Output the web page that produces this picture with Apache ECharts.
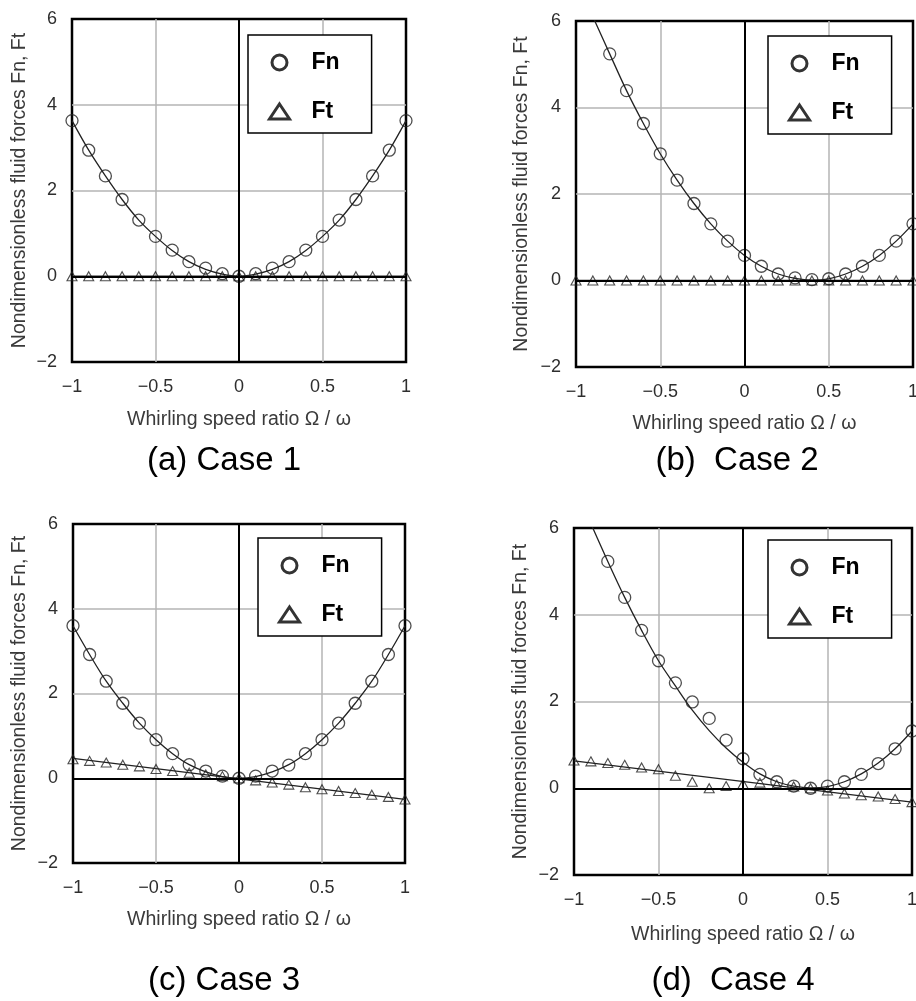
<!DOCTYPE html>
<html><head><meta charset="utf-8">
<script src="https://cdn.jsdelivr.net/npm/echarts@6/dist/echarts.min.js"></script>
<style>html,body{margin:0;padding:0;background:#fff}#c{width:916px;height:1001px}</style>
</head><body><div id="c"></div>
<script>
// ---- data ----
const xs = [-1,-0.9,-0.8,-0.7,-0.6,-0.5,-0.4,-0.3,-0.2,-0.1,0,0.1,0.2,0.3,0.4,0.5,0.6,0.7,0.8,0.9,1];
const xTicks = [-1,-0.5,0,0.5,1];
const yTicks = [-2,0,2,4,6];
const panelTitles = ['(a) Case 1','(b)  Case 2','(c) Case 3','(d)  Case 4'];
const seriesNames = ['Fn','Ft'];
const xAxisName = 'Whirling speed ratio Ω / ω';
const yAxisName = 'Nondimensionless fluid forces Fn, Ft';

// Case 1
const fnA = [3.63,2.94,2.34,1.79,1.31,0.93,0.61,0.34,0.19,0.06,0.0,0.06,0.19,0.34,0.61,0.93,1.31,1.79,2.34,2.94,3.63];
const fnFitA = [3.63,2.94,2.34,1.79,1.31,0.93,0.60,0.34,0.16,0.05,0.0,0.05,0.16,0.34,0.60,0.93,1.31,1.79,2.34,2.94,3.63];
const ftA = [0,0,0,0,0,0,0,0,0,0,0,0,0,0,0,0,0,0,0,0,0];
const ftFitXA = [-1,1];
const ftFitA = [0,0];
// Case 2
const fnB = [null,null,5.24,4.39,3.63,2.93,2.32,1.78,1.31,0.91,0.58,0.33,0.15,0.06,0.02,0.04,0.15,0.33,0.58,0.91,1.31];
const fnFitB = [null,6.1,5.24,4.39,3.63,2.93,2.32,1.78,1.31,0.91,0.58,0.33,0.15,0.05,0.01,0.04,0.15,0.33,0.58,0.91,1.31];
const ftB = [0,0,0,0,0,0,0,0,0,0,0,0,0,0,0,0,0,0,0,0,0];
const ftFitXB = [-1,1];
const ftFitB = [0,0];
// Case 3
const fnC = [3.60,2.92,2.29,1.77,1.30,0.91,0.58,0.32,0.17,0.05,0.0,0.05,0.17,0.31,0.58,0.91,1.30,1.77,2.29,2.92,3.60];
const fnFitC = [3.60,2.92,2.29,1.77,1.30,0.91,0.58,0.32,0.15,0.04,0.0,0.04,0.15,0.32,0.58,0.91,1.30,1.77,2.29,2.92,3.60];
const ftC = [0.45,0.41,0.37,0.32,0.28,0.22,0.17,0.13,0.09,0.05,0.0,-0.05,-0.1,-0.15,-0.21,-0.26,-0.3,-0.35,-0.39,-0.44,-0.5];
const ftFitXC = [-1,1];
const ftFitC = [0.47,-0.5];
// Case 4
const fnD = [null,null,5.23,4.40,3.64,2.94,2.43,1.99,1.61,1.11,0.68,0.32,0.15,0.05,0.0,0.05,0.15,0.32,0.57,0.91,1.32];
const fnFitD = [null,6.1,5.23,4.40,3.64,2.94,2.36,1.80,1.33,0.93,0.60,0.33,0.15,0.05,0.01,0.04,0.15,0.33,0.58,0.91,1.32];
const ftD = [0.64,0.62,0.58,0.54,0.48,0.44,0.29,0.15,0.0,0.05,0.1,0.13,0.08,0.04,0.0,-0.05,-0.12,-0.16,-0.19,-0.25,-0.32];
const ftFitXD = [-1,1];
const ftFitD = [0.63,-0.32];

const dataSets = [
  {fn: fnA, fnFit: fnFitA, ft: ftA, ftFitX: ftFitXA, ftFit: ftFitA},
  {fn: fnB, fnFit: fnFitB, ft: ftB, ftFitX: ftFitXB, ftFit: ftFitB},
  {fn: fnC, fnFit: fnFitC, ft: ftC, ftFitX: ftFitXC, ftFit: ftFitC},
  {fn: fnD, fnFit: fnFitD, ft: ftD, ftFitX: ftFitXD, ftFit: ftFitD}
];

// ---- layout ----
const layout = [
  {grid:{left:72, top:19, width:334, height:343}, legend:{left:248, top:35}, title:[224,461], xGap:48, yGap:42},
  {grid:{left:576, top:21, width:337, height:346}, legend:{left:768, top:36}, title:[737,461], xGap:47, yGap:44},
  {grid:{left:73, top:524, width:332, height:339}, legend:{left:258, top:538}, title:[224,981], xGap:47, yGap:43},
  {grid:{left:574, top:528, width:338, height:347}, legend:{left:768, top:540}, title:[733,981], xGap:50, yGap:43}
];

const FONT = '"Liberation Sans", Arial, sans-serif';
const fmt = v => (v < 0 ? '\u2212' + Math.abs(v) : String(v));
const pairs = (xa, ya) => xa.map((x, i) => [x, ya[i]]).filter(p => p[1] !== null && p[1] !== undefined);

const option = {
  animation: false,
  backgroundColor: '#fff',
  grid: [], xAxis: [], yAxis: [], series: [], legend: [], graphic: []
};

layout.forEach((L, i) => {
  const d = dataSets[i];
  option.grid.push(Object.assign({show: true, borderColor: '#000', borderWidth: 2.5, backgroundColor: 'transparent', outerBoundsMode: 'none', containLabel: false}, L.grid));
  option.xAxis.push({
    type: 'value', gridIndex: i, min: xTicks[0], max: xTicks[xTicks.length-1], interval: 0.5,
    axisLine: {show: false}, axisTick: {show: false},
    axisLabel: {margin: 16, fontSize: 18, color: '#2e2e2e', fontFamily: FONT, formatter: fmt},
    splitLine: {show: true, showMinLine: false, showMaxLine: false, lineStyle: {color: '#b4b4b4', width: 1.5}},
    name: xAxisName, nameLocation: 'middle', nameGap: L.xGap, nameMoveOverlap: false,
    nameTextStyle: {fontSize: 19.5, color: '#3a3a3a', fontFamily: FONT}
  });
  option.yAxis.push({
    type: 'value', gridIndex: i, min: yTicks[0], max: yTicks[yTicks.length-1], interval: 2,
    axisLine: {show: false}, axisTick: {show: false},
    axisLabel: {margin: 15, fontSize: 18, color: '#2e2e2e', fontFamily: FONT, formatter: fmt},
    splitLine: {show: true, showMinLine: false, showMaxLine: false, lineStyle: {color: '#b4b4b4', width: 1.5}},
    name: yAxisName, nameLocation: 'middle', nameGap: L.yGap, nameRotate: 90, nameMoveOverlap: false,
    nameTextStyle: {fontSize: 19.5, color: '#3a3a3a', fontFamily: FONT}
  });
  // Fn fit curve + zero reference lines
  option.series.push({
    type: 'line', name: 'Fn fit', xAxisIndex: i, yAxisIndex: i, z: 2,
    data: pairs(xs, d.fnFit), smooth: 0.35, showSymbol: false, symbol: 'none',
    lineStyle: {color: '#222', width: 1.3}, clip: true, silent: true,
    markLine: {silent: true, symbol: 'none', label: {show: false},
      lineStyle: {color: '#000', width: 2, type: 'solid'},
      data: [{xAxis: 0}, {yAxis: 0}]}
  });
  // Ft fit line
  option.series.push({
    type: 'line', name: 'Ft fit', xAxisIndex: i, yAxisIndex: i, z: 2,
    data: pairs(d.ftFitX, d.ftFit), showSymbol: false, symbol: 'none',
    lineStyle: {color: '#222', width: 1.3}, clip: true, silent: true
  });
  // markers
  option.series.push({
    type: 'scatter', name: seriesNames[0], xAxisIndex: i, yAxisIndex: i, z: 4,
    data: pairs(xs, d.fn), symbol: 'circle', symbolSize: 12, clip: false,
    itemStyle: {color: 'rgba(255,255,255,0)', borderColor: '#222', borderWidth: 1.3}
  });
  option.series.push({
    type: 'scatter', name: seriesNames[1], xAxisIndex: i, yAxisIndex: i, z: 4,
    data: pairs(xs, d.ft), symbol: 'triangle', symbolSize: [10, 9], clip: false,
    itemStyle: {color: 'rgba(255,255,255,0)', borderColor: '#222', borderWidth: 1.1}
  });
  option.legend.push({
    orient: 'vertical', left: L.legend.left, top: L.legend.top,
    backgroundColor: '#fff', borderColor: '#000', borderWidth: 1.5,
    padding: [16, 32, 10, 20], itemGap: 26, itemWidth: 54, itemHeight: 15,
    symbolKeepAspect: true, selectedMode: false,
    textStyle: {fontSize: 23, fontWeight: 'bold', color: '#000', fontFamily: FONT},
    itemStyle: {color: '#fff', borderColor: '#000', borderWidth: 3},
    data: [{name: seriesNames[0], icon: 'circle'}, {name: seriesNames[1], icon: 'path://M10,0L20,15L0,15Z'}]
  });
  option.graphic.push({
    type: 'text', x: L.title[0], y: L.title[1], silent: true,
    style: {text: panelTitles[i], font: '33px ' + FONT, fill: '#000',
      textAlign: 'center', textVerticalAlign: 'middle', align: 'center', verticalAlign: 'middle'}
  });
});

const chart = echarts.init(document.getElementById('c'), null, {renderer: 'canvas'});
chart.setOption(option);
</script>
</body></html>
